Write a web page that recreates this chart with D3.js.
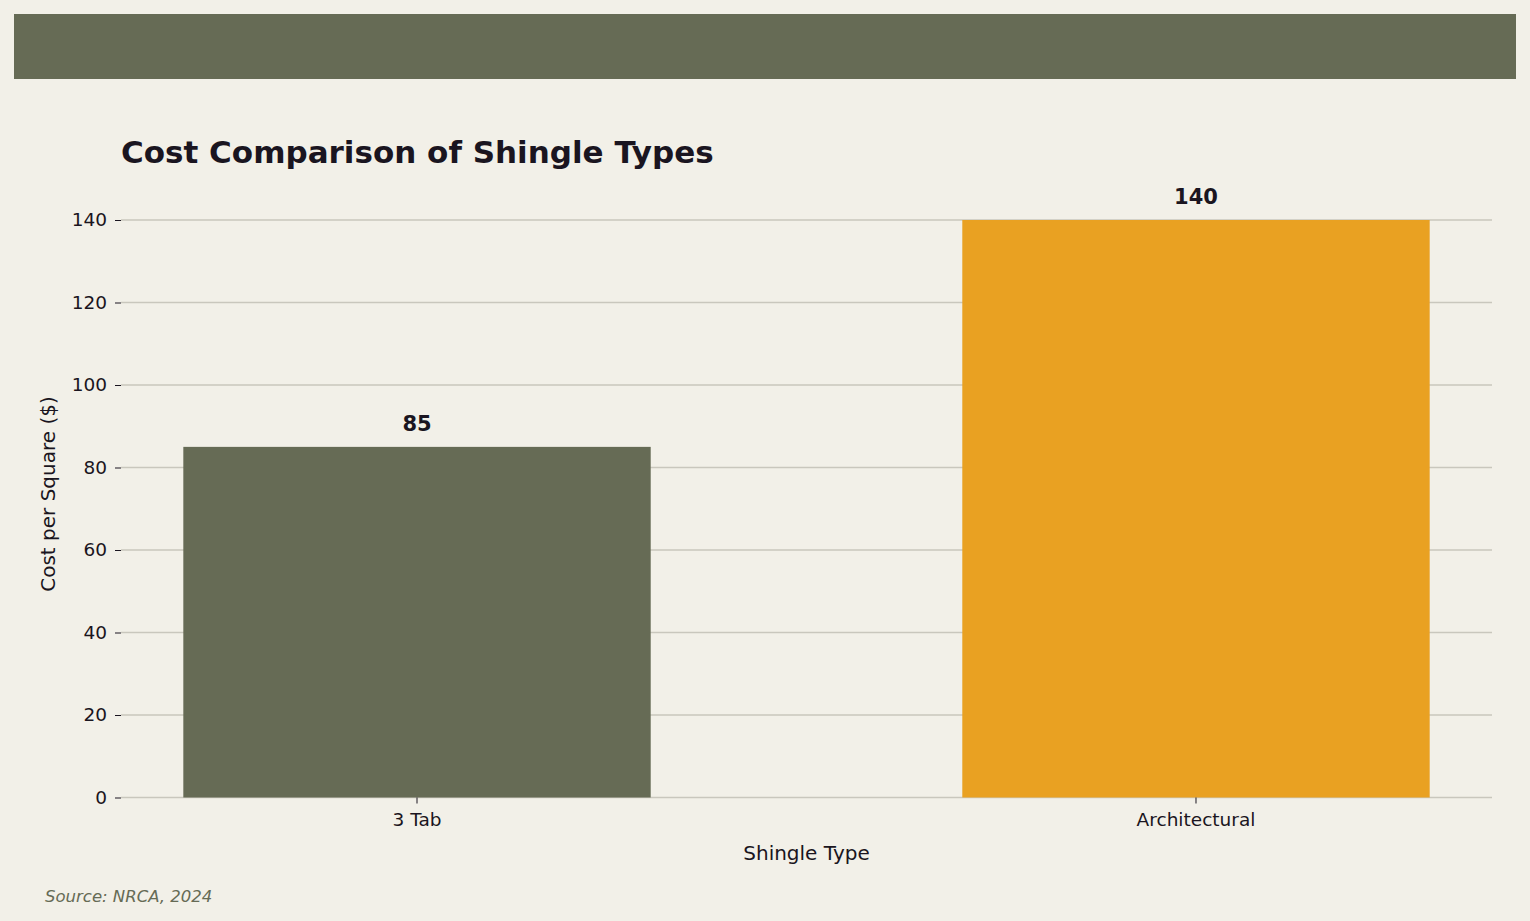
<!DOCTYPE html>
<html lang="en">
<head>
<meta charset="UTF-8">
<script src="https://d3js.org/d3.v7.min.js"></script>
<style>
  body { margin: 0; background: #f2f0e8; font-family: "DejaVu Sans", sans-serif; }
</style>
</head>
<body>
<div id="chart"></div>
<script>
// Chart data
const categories = ["3 Tab", "Architectural"];
const costs = [85, 140];
const barColors = ["#666b55", "#e9a122"];
const yTicks = [0, 20, 40, 60, 80, 100, 120, 140];

const width = 1530, height = 921;
const margin = { left: 121, right: 38, top: 220, bottom: 123 };

const svg = d3.select("#chart").append("svg")
    .attr("width", width).attr("height", height);

svg.append("rect").attr("width", width).attr("height", height).attr("fill", "#f2f0e8");
// header band
svg.append("rect").attr("x", 14).attr("y", 14).attr("width", 1502).attr("height", 65).attr("fill", "#666b55");

const x = d3.scaleBand().domain(categories)
    .range([margin.left, width - margin.right])
    .paddingInner(0.4).paddingOuter(0.08);
const y = d3.scaleLinear().domain([0, 140]).range([height - margin.bottom - 0.5, margin.top]);

// grid
svg.append("g").selectAll("line").data(yTicks).enter().append("line")
    .attr("x1", margin.left).attr("x2", width - margin.right)
    .attr("y1", d => y(d)).attr("y2", d => y(d))
    .attr("stroke", "#c9c7bd").attr("stroke-width", 1.5);

// bars
svg.append("g").selectAll("rect").data(categories).enter().append("rect")
    .attr("x", d => x(d)).attr("width", x.bandwidth())
    .attr("y", (d, i) => y(costs[i]))
    .attr("height", (d, i) => y(0) - y(costs[i]))
    .attr("fill", (d, i) => barColors[i]);

// value labels
svg.append("g").selectAll("text").data(categories).enter().append("text")
    .attr("x", d => x(d) + x.bandwidth() / 2)
    .attr("y", (d, i) => y(costs[i]) - 16)
    .attr("text-anchor", "middle").attr("font-size", 21).attr("font-weight", "bold")
    .attr("fill", "#1a1520")
    .text((d, i) => costs[i]);

// axes
const yAxis = svg.append("g").attr("transform", `translate(${margin.left},0)`)
    .call(d3.axisLeft(y).tickValues(yTicks).tickSize(6).tickPadding(8));
yAxis.select(".domain").remove();
const xAxis = svg.append("g").attr("transform", `translate(0,${y(0)})`)
    .call(d3.axisBottom(x).tickSize(6).tickPadding(9));
xAxis.select(".domain").remove();
svg.selectAll(".tick text").attr("font-size", 18.5).attr("fill", "#1a1520")
    .attr("font-family", "DejaVu Sans, sans-serif");
svg.selectAll(".tick line").attr("stroke", "#1a1520");

// titles
svg.append("text").attr("x", 121).attr("y", 163)
    .attr("font-size", 31).attr("font-weight", "bold").attr("fill", "#1a1520")
    .text("Cost Comparison of Shingle Types");
svg.append("text").attr("x", (margin.left + width - margin.right) / 2).attr("y", 860)
    .attr("text-anchor", "middle").attr("font-size", 20).attr("fill", "#1a1520")
    .text("Shingle Type");
svg.append("text").attr("transform", "translate(55,494) rotate(-90)")
    .attr("text-anchor", "middle").attr("font-size", 20).attr("fill", "#1a1520")
    .text("Cost per Square ($)");
svg.append("text").attr("x", 45).attr("y", 902)
    .attr("font-size", 16.5).attr("font-style", "italic").attr("fill", "#666b55")
    .text("Source: NRCA, 2024");
</script>
</body>
</html>
